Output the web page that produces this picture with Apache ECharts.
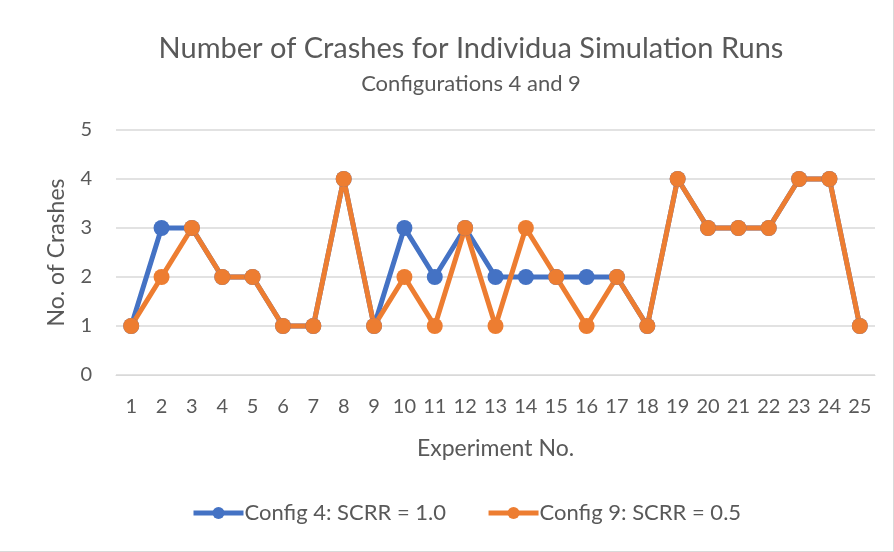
<!DOCTYPE html>
<html>
<head>
  <meta charset="utf-8">
  <title>Number of Crashes</title>
  <script src="https://cdn.jsdelivr.net/npm/echarts@6/dist/echarts.min.js"></script>
  <style>
    html, body { margin: 0; padding: 0; background: #fff; }
    #chart { width: 893px; height: 551px; border-right: 1px solid #d9d9d9; border-bottom: 1px solid #d9d9d9; }
  </style>
</head>
<body>
<div id="chart"></div>
<script>
  // 数据
  var experiments = ['1','2','3','4','5','6','7','8','9','10','11','12','13','14','15','16','17','18','19','20','21','22','23','24','25'];
  var config4 = [1,3,3,2,2,1,1,4,1,3,2,3,2,2,2,2,2,1,4,3,3,3,4,4,1];
  var config9 = [1,2,3,2,2,1,1,4,1,2,1,3,1,3,2,1,2,1,4,3,3,3,4,4,1];
  var yTicks = [0, 1, 2, 3, 4, 5];

  var txt = '#595959';
  var font = 'Lato, "Open Sans", sans-serif';

  var myChart = echarts.init(document.getElementById('chart'));
  var option = {
    animation: false,
    textStyle: { fontFamily: font },
    title: {
      text: 'Number of Crashes for Individua Simulation Runs',
      subtext: 'Configurations 4 and 9',
      left: 466,
      textAlign: 'center',
      top: 29,
      itemGap: 10,
      textStyle: { fontSize: 29, fontWeight: 'normal', color: txt, fontFamily: font },
      subtextStyle: { fontSize: 22, color: txt, fontFamily: font }
    },
    legend: {
      bottom: 22,
      left: 186,
      itemWidth: 50,
      itemHeight: 15,
      itemGap: 40,
      lineStyle: { width: 5 },
      textStyle: { fontSize: 22, color: txt, fontFamily: font, padding: [0, 0, 0, -4] },
      data: ['Config 4: SCRR = 1.0', 'Config 9: SCRR = 0.5']
    },
    grid: { left: 116, right: 18, top: 130, bottom: 176 },
    xAxis: {
      type: 'category',
      data: experiments,
      name: 'Experiment No.',
      nameLocation: 'middle',
      nameGap: 62,
      nameTextStyle: { fontSize: 23, color: txt },
      axisLine: { lineStyle: { color: '#d9d9d9' } },
      axisTick: { show: false },
      axisLabel: { fontSize: 20, color: txt, margin: 22 }
    },
    yAxis: {
      type: 'value',
      min: yTicks[0],
      max: yTicks[yTicks.length - 1],
      interval: 1,
      name: 'No. of Crashes',
      nameLocation: 'middle',
      nameGap: 48,
      nameTextStyle: { fontSize: 23, color: txt },
      axisLine: { show: false },
      axisTick: { show: false },
      axisLabel: { fontSize: 20, color: txt, margin: 24 },
      splitLine: { lineStyle: { color: '#d9d9d9', width: 1.5 } }
    },
    series: [
      {
        name: 'Config 4: SCRR = 1.0',
        type: 'line',
        data: config4,
        symbol: 'circle',
        symbolSize: 16,
        color: '#4472C4',
        lineStyle: { width: 5 }
      },
      {
        name: 'Config 9: SCRR = 0.5',
        type: 'line',
        data: config9,
        symbol: 'circle',
        symbolSize: 16,
        color: '#ED7D31',
        lineStyle: { width: 5 }
      }
    ]
  };
  myChart.setOption(option);
</script>
</body>
</html>
